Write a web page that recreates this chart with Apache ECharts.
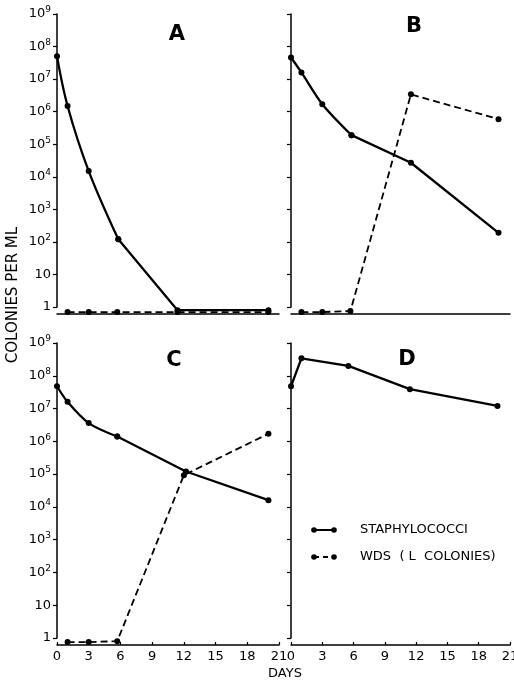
<!DOCTYPE html>
<html>
<head>
<meta charset="utf-8">
<script src="https://cdn.jsdelivr.net/npm/echarts@6/dist/echarts.min.js"></script>
<style>
  html, body { margin: 0; padding: 0; background: #fff; }
  #chart { width: 514px; height: 688px; }
</style>
</head>
<body>
<div id="chart"></div>
<script>
// days since start, colonies per ml (values below 1 = none detected, drawn on the base line)
var daysStaphA = [0, 1, 3, 5.8, 11.4, 20];
var staphA = [5e7, 1.5e6, 1.5e4, 120, 0.8, 0.8];
var daysWdsA = [1, 3, 5.7, 11.4, 20];
var wdsA = [0.7, 0.7, 0.7, 0.7, 0.7];

var daysStaphB = [0, 1, 3, 5.8, 11.5, 19.9];
var staphB = [4.6e7, 1.6e7, 1.7e6, 1.9e5, 2.7e4, 190];
var daysWdsB = [1, 3, 5.7, 11.5, 19.9];
var wdsB = [0.7, 0.7, 0.75, 3.4e6, 5.9e5];

var daysStaphC = [0, 1, 3, 5.7, 12.2, 20];
var staphC = [4.8e7, 1.6e7, 3.6e6, 1.4e6, 1.2e5, 1.6e4];
var daysWdsC = [1, 3, 5.7, 12, 20];
var wdsC = [0.75, 0.75, 0.8, 9.3e4, 1.7e6];

var daysStaphD = [0, 1, 5.5, 11.4, 19.8];
var staphD = [4.8e7, 3.4e8, 2e8, 3.9e7, 1.2e7];

var dayTicks = [0, 3, 6, 9, 12, 15, 18, 21];

var FONT = 'DejaVu Sans';

function pairs(xs, ys) {
    var out = [];
    for (var i = 0; i < xs.length; i++) out.push([xs[i], ys[i]]);
    return out;
}

function logLabel(v) {
    var e = Math.round(Math.log10(v));
    if (e === 0) return '1';
    if (e === 1) return '10';
    return '10{s|' + e + '}';
}

var grids = [
    { left: 57, top: 14, width: 222, height: 293 },
    { left: 291, top: 14, width: 219, height: 293 },
    { left: 57, top: 343, width: 222, height: 295 },
    { left: 291, top: 343, width: 219, height: 295 }
];
grids.forEach(function (g) { g.outerBoundsMode = 'none'; g.containLabel = false; });

var xAxes = [], yAxes = [];
for (var i = 0; i < 4; i++) {
    var bottomRow = i >= 2;
    xAxes.push({
        type: 'value', gridIndex: i, min: 0, max: 21, interval: 3, offset: 7,
        axisLine: { lineStyle: { color: '#000', width: 1.5 } },
        axisTick: { show: bottomRow, inside: true, length: 3, lineStyle: { color: '#000', width: 1.2 } },
        axisLabel: {
            show: bottomRow, color: '#000', fontFamily: FONT, fontSize: 13, margin: 5,
            formatter: function (v) { return dayTicks.indexOf(v) >= 0 ? String(v) : ''; }
        },
        splitLine: { show: false }
    });
    yAxes.push({
        type: 'log', logBase: 10, gridIndex: i, min: 1, max: 1e9, splitNumber: 9,
        axisLine: { show: true, lineStyle: { color: '#000', width: 1.5 } },
        axisTick: { show: true, length: 4, lineStyle: { color: '#000', width: 1.2 } },
        axisLabel: {
            show: i % 2 === 0, color: '#000', fontFamily: FONT, fontSize: 13, margin: 6,
            formatter: logLabel,
            rich: { s: { fontSize: 9, fontFamily: FONT, color: '#000', padding: [0, 0, 8, 0] } }
        },
        splitLine: { show: false }
    });
}

function lineSeries(idx, data, smooth, dashed) {
    return {
        type: 'line', xAxisIndex: idx, yAxisIndex: idx, data: data,
        smooth: smooth, clip: false, symbol: 'circle', symbolSize: 6,
        itemStyle: { color: '#000' },
        lineStyle: dashed ? { color: '#000', width: 1.8, type: [7, 4] } : { color: '#000', width: 2.3 },
        animation: false, z: dashed ? 2 : 3
    };
}
// staph curves bend smoothly early on, then run straight: curve up to point k, straight after
function staphSeries(idx, xs, ys, k, smooth) {
    var all = pairs(xs, ys);
    return [
        lineSeries(idx, all.slice(0, k + 1), smooth, false),
        lineSeries(idx, all.slice(k), false, false)
    ];
}

function panelText(x, y, t) {
    return { type: 'text', x: x, y: y, style: { text: t, fontFamily: FONT, fontSize: 21, fontWeight: 'bold', fill: '#000', align: 'center', verticalAlign: 'middle' } };
}
function plainText(x, y, t, opts) {
    var st = { text: t, fontFamily: FONT, fontSize: 13, fill: '#000', align: 'left', verticalAlign: 'middle' };
    for (var k in opts) st[k] = opts[k];
    return { type: 'text', x: x, y: y, style: st };
}

var series = [].concat(
    [lineSeries(0, pairs(daysWdsA, wdsA), false, true)],
    staphSeries(0, daysStaphA, staphA, 3, 0.35),
    [lineSeries(1, pairs(daysWdsB, wdsB), false, true)],
    staphSeries(1, daysStaphB, staphB, 3, 0.3),
    [lineSeries(2, pairs(daysWdsC, wdsC), false, true)],
    staphSeries(2, daysStaphC, staphC, 3, 0.3),
    [lineSeries(3, pairs(daysStaphD, staphD), false, false)]
);

var chart = echarts.init(document.getElementById('chart'), null, { renderer: 'canvas' });
chart.setOption({
    backgroundColor: '#fff',
    animation: false,
    grid: grids,
    xAxis: xAxes,
    yAxis: yAxes,
    series: series,
    graphic: [
        panelText(177, 35, 'A'),
        panelText(414, 27, 'B'),
        panelText(174, 361, 'C'),
        panelText(407, 360, 'D'),
        { type: 'text', x: 13, y: 295, rotation: Math.PI / 2,
          style: { text: 'COLONIES PER ML', fontFamily: FONT, fontSize: 15, fill: '#000', align: 'center', verticalAlign: 'middle' } },
        plainText(285, 674, 'DAYS', { align: 'center' }),
        // legend
        { type: 'line', shape: { x1: 314, y1: 530, x2: 334, y2: 530 }, style: { stroke: '#000', lineWidth: 2 } },
        { type: 'circle', shape: { cx: 314, cy: 530, r: 2.8 }, style: { fill: '#000' } },
        { type: 'circle', shape: { cx: 334, cy: 530, r: 2.8 }, style: { fill: '#000' } },
        { type: 'line', shape: { x1: 314, y1: 557, x2: 334, y2: 557 }, style: { stroke: '#000', lineWidth: 1.8, lineDash: [5, 4] } },
        { type: 'circle', shape: { cx: 314, cy: 557, r: 2.8 }, style: { fill: '#000' } },
        { type: 'circle', shape: { cx: 334, cy: 557, r: 2.8 }, style: { fill: '#000' } },
        plainText(360, 530, 'STAPHYLOCOCCI'),
        plainText(360, 557, 'WDS  ( L  COLONIES)')
    ]
});
</script>
</body>
</html>
